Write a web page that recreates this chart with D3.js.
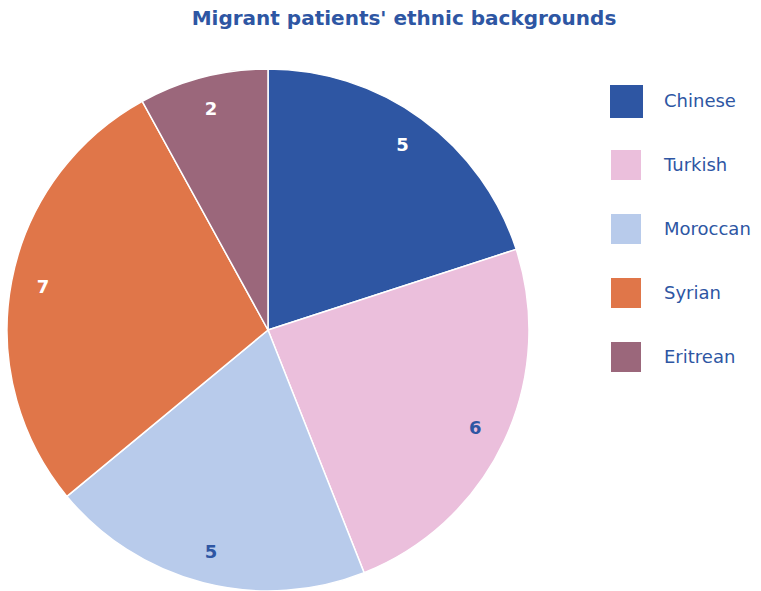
<!DOCTYPE html>
<html>
<head>
<meta charset="utf-8">
<script src="https://cdn.jsdelivr.net/npm/d3@7"></script>
<style>
  body { margin: 0; background: #fff; }
  text { font-family: 'DejaVu Sans', sans-serif; }
</style>
</head>
<body>
<div class="chart"></div>
<script>
(function() {
  var categories = ['Chinese', 'Turkish', 'Moroccan', 'Syrian', 'Eritrean'];
  var values = [5, 6, 5, 7, 2];
  var colors = ['#2e56a3', '#ebbfdc', '#b8cbeb', '#e07649', '#9b677b'];
  var labelColors = ['#ffffff', '#2e56a3', '#2e56a3', '#ffffff', '#ffffff'];

  var opts = { width: 761, height: 591, cx: 268, cy: 330, r: 261 };

  var svg = d3.select('.chart')
    .append('svg')
    .attr('width', opts.width)
    .attr('height', opts.height);

  svg.append('text')
    .attr('x', 404)
    .attr('y', 25)
    .attr('text-anchor', 'middle')
    .style('font-size', '20px')
    .style('font-weight', 'bold')
    .style('fill', '#2e56a3')
    .text("Migrant patients' ethnic backgrounds");

  var data = categories.map(function(c, i) { return { name: c, value: values[i], i: i }; });

  var pie = d3.pie().sort(null).value(function(d) { return d.value; });
  var arc = d3.arc().innerRadius(0).outerRadius(opts.r);
  var labelArc = d3.arc().innerRadius(229).outerRadius(229);

  var g = svg.append('g').attr('transform', 'translate(' + opts.cx + ',' + opts.cy + ')');

  var slices = g.selectAll('.slice').data(pie(data))
    .enter().append('g').attr('class', 'slice');

  slices.append('path')
    .attr('d', arc)
    .style('fill', function(d) { return colors[d.data.i]; })
    .style('stroke', '#fff')
    .style('stroke-width', 1.5);

  slices.append('text')
    .attr('transform', function(d) { return 'translate(' + labelArc.centroid(d) + ')'; })
    .attr('text-anchor', 'middle')
    .attr('dy', '0.35em')
    .style('font-size', '18px')
    .style('font-weight', 'bold')
    .style('fill', function(d) { return labelColors[d.data.i]; })
    .text(function(d) { return d.data.value; });

  var legend = svg.selectAll('.legend').data(data)
    .enter().append('g')
    .attr('class', 'legend')
    .attr('transform', function(d, i) { return 'translate(611,' + (101 + i * 64) + ')'; });

  legend.append('rect')
    .attr('x', function(d, i) { return i === 0 ? -1 : 0; })
    .attr('y', function(d, i) { return i === 0 ? -16 : -15; })
    .attr('width', function(d, i) { return i === 0 ? 33 : 30; })
    .attr('height', function(d, i) { return i === 0 ? 33 : 30; })
    .style('fill', function(d) { return colors[d.i]; });

  legend.append('text')
    .attr('x', 53)
    .attr('dy', '0.35em')
    .style('font-size', '18px')
    .style('fill', '#2e56a3')
    .text(function(d) { return d.name; });
})();
</script>
</body>
</html>
